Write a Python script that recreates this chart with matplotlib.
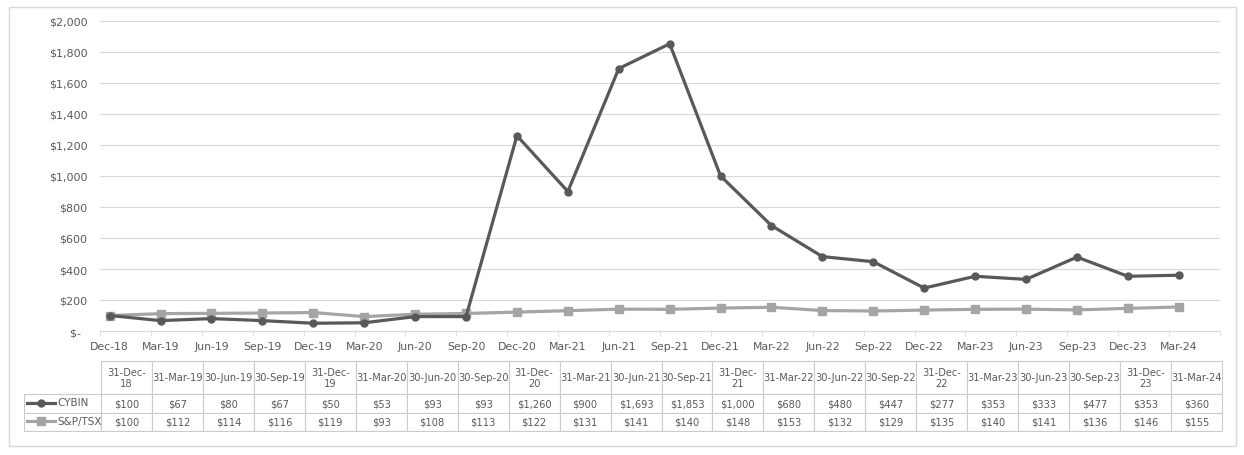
import numpy as np
import matplotlib
matplotlib.use("Agg")
import matplotlib.pyplot as plt
from matplotlib.table import Table
from matplotlib.patches import Rectangle
from matplotlib.lines import Line2D

# quarter-end dates
quarters = ["Dec-18", "Mar-19", "Jun-19", "Sep-19", "Dec-19", "Mar-20", "Jun-20", "Sep-20",
            "Dec-20", "Mar-21", "Jun-21", "Sep-21", "Dec-21", "Mar-22", "Jun-22", "Sep-22",
            "Dec-22", "Mar-23", "Jun-23", "Sep-23", "Dec-23", "Mar-24"]
table_dates = ["31-Dec-18", "31-Mar-19", "30-Jun-19", "30-Sep-19", "31-Dec-19", "31-Mar-20",
               "30-Jun-20", "30-Sep-20", "31-Dec-20", "31-Mar-21", "30-Jun-21", "30-Sep-21",
               "31-Dec-21", "31-Mar-22", "30-Jun-22", "30-Sep-22", "31-Dec-22", "31-Mar-23",
               "30-Jun-23", "30-Sep-23", "31-Dec-23", "31-Mar-24"]
cybin = [100, 67, 80, 67, 50, 53, 93, 93, 1260, 900, 1693, 1853, 1000, 680, 480, 447,
         277, 353, 333, 477, 353, 360]
tsx = [100, 112, 114, 116, 119, 93, 108, 113, 122, 131, 141, 140, 148, 153, 132, 129,
       135, 140, 141, 136, 146, 155]
series_names = ["CYBIN", "S&P/TSX"]

DARK = "#595959"
LIGHT = "#A5A5A5"
GRID = "#D9D9D9"
TXT = "#595959"
plt.rcParams["font.family"] = "DejaVu Sans"

W, H = 1244, 456
fig = plt.figure(figsize=(W / 100, H / 100), dpi=100)


def px(x0, y0, x1, y1):
    return [x0 / W, 1 - y1 / H, (x1 - x0) / W, (y1 - y0) / H]


# outer chart border
fig.patches.append(Rectangle((9 / W, 1 - 447 / H), 1227 / W, 439 / H, transform=fig.transFigure,
                             fill=False, edgecolor=GRID, lw=1))

ax = fig.add_axes(px(100, 22, 1220, 332))
x = np.arange(len(quarters))
ax.plot(x, tsx, color=LIGHT, lw=2.3, marker="s", ms=5.5, zorder=2)
ax.plot(x, cybin, color=DARK, lw=2.3, marker="o", ms=5, zorder=3)

ax.set_ylim(0, 2000)
ax.set_yticks(range(0, 2001, 200))
ax.set_yticklabels([f"${v:,}" if v else "$-  " for v in range(0, 2001, 200)])
ax.set_xlim(-0.19, 21.17)
ax.set_xticks(x, quarters)
ax.set_xticks(np.arange(23) - 0.19, minor=True)
ax.grid(axis="y", color=GRID, lw=0.8)
ax.set_axisbelow(True)
for s in ["left", "top", "right"]:
    ax.spines[s].set_visible(False)
ax.spines["bottom"].set_color(GRID)
ax.tick_params(axis="y", length=0, pad=9, labelsize=8, labelcolor=TXT)
ax.tick_params(axis="x", which="major", length=0, pad=7.5, labelsize=7.8, labelcolor=TXT)
ax.tick_params(axis="x", which="minor", length=3.5, color=GRID)

# data table below the chart
tax = fig.add_axes(px(24, 362, 1222, 432))
tax.axis("off")
tbl = Table(tax, bbox=[0, 0, 1, 1])
lab_w, col_w = 77, 50.95
hdr_h, row_h = 33, 18.5
edge = "#CBCBCB"
c = tbl.add_cell(0, 0, lab_w, hdr_h, text="")
c.visible_edges = ""
for j, d in enumerate(table_dates):
    c = tbl.add_cell(0, j + 1, col_w, hdr_h, text=d.replace("Dec-", "Dec-\n"), loc="center")
    c.set_edgecolor(edge)
for i, vals in enumerate([cybin, tsx]):
    c = tbl.add_cell(i + 1, 0, lab_w, row_h, text="")
    c.set_edgecolor(edge)
    for j, v in enumerate(vals):
        c = tbl.add_cell(i + 1, j + 1, col_w, row_h, text=f"${v:,}", loc="center")
        c.set_edgecolor(edge)
tbl.auto_set_font_size(False)
tbl.set_fontsize(7.1)
for cell in tbl.get_celld().values():
    cell.set_linewidth(0.8)
    cell.get_text().set_color(TXT)
    cell.get_text().set_linespacing(1.05)
tax.add_table(tbl)

# legend keys inside the row label cells
def tx(xp):
    return (xp - 24) / 1198


def ty(yp):
    return 1 - (yp - 362) / 70


for name, col, mk, ms, yp in [(series_names[0], DARK, "o", 5, 403.5),
                              (series_names[1], LIGHT, "s", 5.5, 422)]:
    tax.add_line(Line2D([tx(27), tx(55)], [ty(yp), ty(yp)], color=col, lw=2.3,
                        transform=tax.transAxes))
    tax.add_line(Line2D([tx(41)], [ty(yp)], color=col, marker=mk, ms=ms,
                        transform=tax.transAxes))
    tax.text(tx(57), ty(yp), name, transform=tax.transAxes, fontsize=7.5, color=TXT,
             va="center", ha="left")

fig.savefig("out.png", dpi=100)
